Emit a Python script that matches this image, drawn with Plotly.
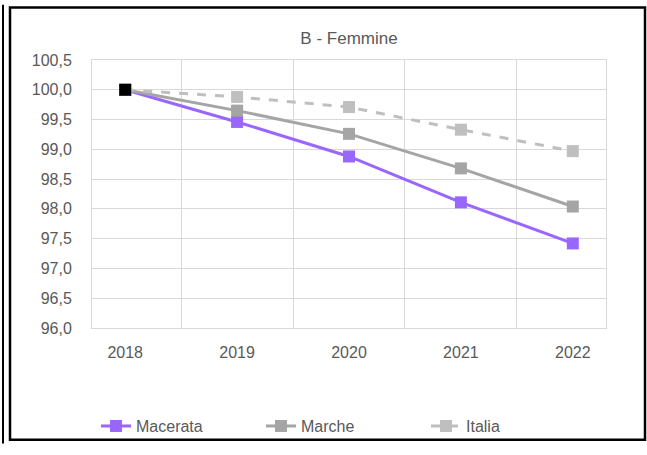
import plotly.graph_objects as go

years = ["2018", "2019", "2020", "2021", "2022"]
macerata = [100.0, 99.46, 98.88, 98.11, 97.42]
marche = [100.0, 99.65, 99.26, 98.68, 98.04]
italia = [100.0, 99.88, 99.71, 99.33, 98.97]
y_ticks = [96.0, 96.5, 97.0, 97.5, 98.0, 98.5, 99.0, 99.5, 100.0, 100.5]

txt = "#595959"
font_family = "Liberation Sans, Arial, sans-serif"

fig = go.Figure()
series = [
    ("Macerata", macerata, "#9966FF", "solid"),
    ("Marche", marche, "#A5A5A5", "solid"),
    ("Italia", italia, "#BFBFBF", "dash"),
]
for name, vals, col, dash in series:
    fig.add_trace(go.Scatter(
        x=years, y=vals, name=name, mode="lines+markers",
        line=dict(color=col, width=3, dash=dash),
        marker=dict(symbol="square", size=12, color=col, line=dict(width=0)),
    ))
# first point highlighted in black (base year)
fig.add_trace(go.Scatter(
    x=years[:1], y=italia[:1], mode="markers", showlegend=False,
    marker=dict(symbol="square", size=12, color="#000000", line=dict(width=0)),
))

W, H = 514.0, 276.0
def px(x):
    return (x - 92) / W
def py(y):
    return (336 - y) / H

fig.update_layout(
    width=647, height=455,
    paper_bgcolor="white", plot_bgcolor="white",
    margin=dict(l=92, r=41, t=60, b=119),
    separators=", ",
    font=dict(family=font_family, size=16, color=txt),
    title=dict(text="B - Femmine", x=0.5, xref="paper", y=1 - 38 / 455,
               yanchor="middle", xanchor="center",
               font=dict(size=17, color=txt)),
    showlegend=True,
    legend=dict(orientation="h", x=px(96), xanchor="left", y=py(437),
                yanchor="middle", font=dict(size=16, color=txt),
                bgcolor="rgba(0,0,0,0)", itemwidth=30, traceorder="normal",
                entrywidth=120, entrywidthmode="pixels"),
    xaxis=dict(type="category", tickson="boundaries", showgrid=True,
               gridcolor="#D9D9D9", gridwidth=1, showline=True,
               linecolor="#D9D9D9", mirror=True, ticks="",
               ticklabelstandoff=10, automargin=False),
    yaxis=dict(range=[96.0, 100.5], tickvals=y_ticks, tickformat=".1f",
               showgrid=True, gridcolor="#D9D9D9", gridwidth=1,
               showline=True, linecolor="#D9D9D9", mirror=True,
               zeroline=False, ticks="", ticklabelstandoff=16,
               automargin=False),
)

fig.add_shape(type="rect", xref="paper", yref="paper",
              x0=px(10), x1=px(645), y0=py(451), y1=py(6),
              line=dict(color="black", width=2.5), layer="below")
fig.add_shape(type="line", xref="paper", yref="paper",
              x0=px(3), x1=px(3), y0=py(455), y1=py(3),
              line=dict(color="black", width=2))

fig.write_html("out.html", config={"displayModeBar": False},
               post_script="document.body.style.margin='0';document.body.style.overflow='hidden';")
